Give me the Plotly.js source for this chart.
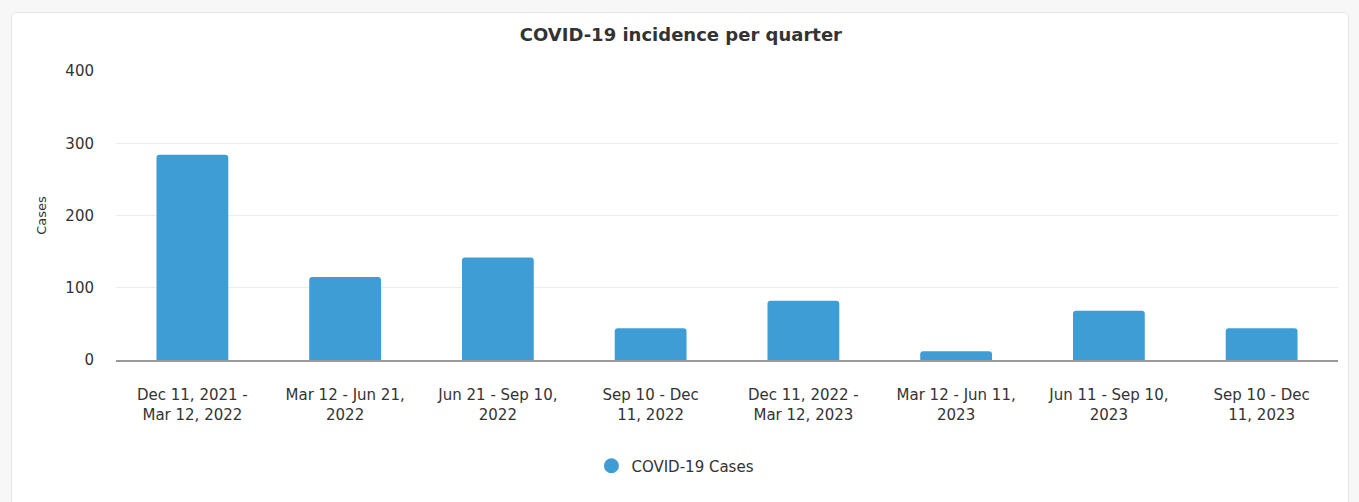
<!DOCTYPE html>
<html>
<head>
<meta charset="utf-8">
<script src="https://cdn.plot.ly/plotly-3.0.1.min.js"></script>
<style>
  html, body { margin: 0; padding: 0; background: #f7f7f7; width: 1359px; height: 502px; overflow: hidden; }
  #card { position: absolute; left: 11px; top: 12px; width: 1338px; height: 500px; background: #fff;
          border: 1px solid #e4e4e4; border-radius: 5px; box-sizing: border-box; }
  #chart { position: absolute; left: 0; top: 0; width: 1359px; height: 502px; }
</style>
</head>
<body>
<div id="card"></div>
<div id="chart"></div>
<script>
const categories = [
  "Dec 11, 2021 -<br>Mar 12, 2022",
  "Mar 12 - Jun 21,<br>2022",
  "Jun 21 - Sep 10,<br>2022",
  "Sep 10 - Dec<br>11, 2022",
  "Dec 11, 2022 -<br>Mar 12, 2023",
  "Mar 12 - Jun 11,<br>2023",
  "Jun 11 - Sep 10,<br>2023",
  "Sep 10 - Dec<br>11, 2023"
];
const cases = [284, 115, 142, 44, 82, 12, 68, 44];
const seriesName = "COVID-19 Cases";
const chartTitle = "COVID-19 incidence per quarter";
const yTitle = "Cases";
const barColor = "#3f9dd6";

const font = "DejaVu Sans, Verdana, sans-serif";

const traces = [
  {
    type: "bar",
    x: categories,
    y: cases,
    name: seriesName,
    marker: { color: barColor, cornerradius: 3 },
    showlegend: false,
    hoverinfo: "x+y"
  },
  {
    type: "scatter",
    mode: "markers",
    x: [null],
    y: [null],
    name: seriesName,
    marker: { color: barColor, size: 15, symbol: "circle" },
    showlegend: true
  }
];

const layout = {
  width: 1359,
  height: 502,
  paper_bgcolor: "rgba(0,0,0,0)",
  plot_bgcolor: "rgba(0,0,0,0)",
  margin: { l: 116, r: 21, t: 71, b: 142 },
  font: { family: font, size: 14, color: "#333" },
  title: {
    text: chartTitle,
    font: { family: font, size: 18, color: "#333", weight: "bold" },
    xref: "container", x: 0.501, xanchor: "center",
    yref: "container", y: 1 - 35 / 502, yanchor: "middle"
  },
  bargap: 0.53,
  xaxis: {
    type: "category",
    showgrid: false,
    showline: true,
    linecolor: "#9a9a9a",
    linewidth: 2,
    ticks: "",
    ticklabelstandoff: 20,
    tickfont: { family: font, size: 15, color: "#333" },
    fixedrange: true
  },
  yaxis: {
    range: [0, 400],
    tickvals: [0, 100, 200, 300, 400],
    showgrid: true,
    gridcolor: "#ececec",
    gridwidth: 1,
    zeroline: false,
    showline: false,
    ticks: "",
    ticklabelstandoff: 21,
    tickfont: { family: font, size: 15, color: "#333" },
    title: { text: yTitle, font: { family: font, size: 13, color: "#333" }, standoff: 15 },
    fixedrange: true
  },
  showlegend: true,
  legend: {
    orientation: "h",
    xref: "container", x: 0.497, xanchor: "center",
    yref: "container", y: 1 - 466 / 502, yanchor: "middle",
    font: { family: font, size: 15, color: "#333" },
    bgcolor: "rgba(0,0,0,0)"
  }
};

Plotly.newPlot("chart", traces, layout, { displayModeBar: false, staticPlot: true });
</script>
</body>
</html>
